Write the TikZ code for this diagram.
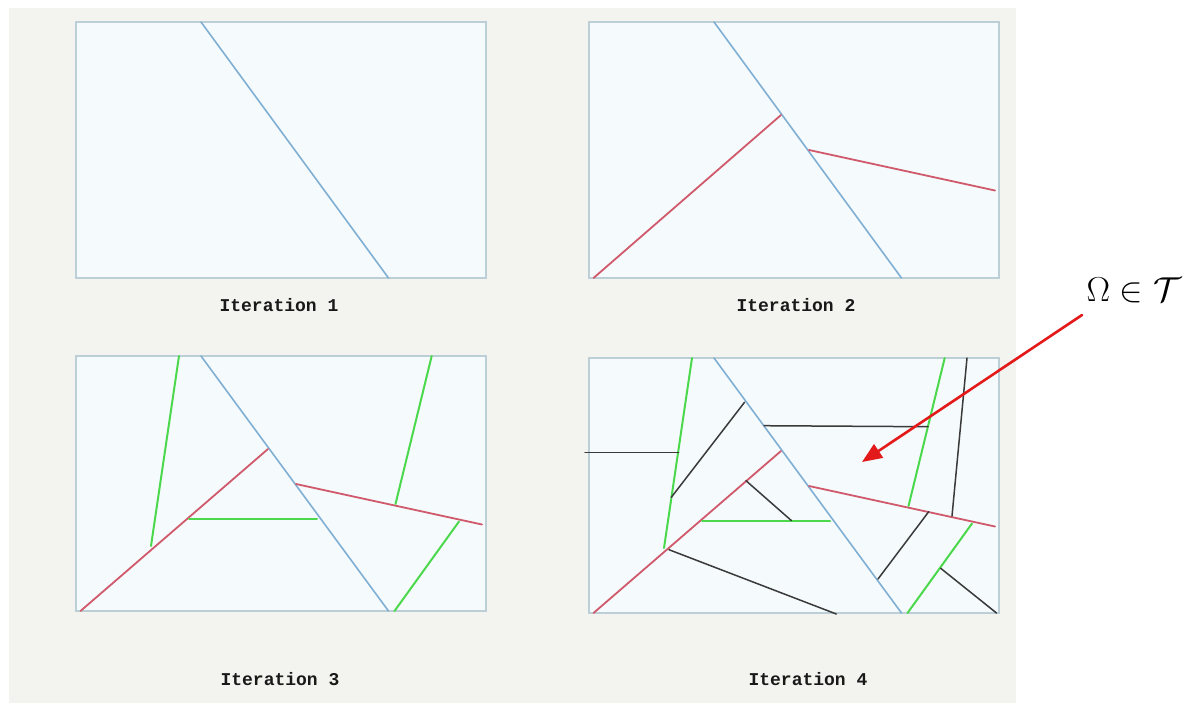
\documentclass[tikz,border=0pt]{standalone}
\usepackage{fontspec}
\usetikzlibrary{arrows.meta}
\newfontfamily\itermono{Liberation Mono}
\definecolor{bgGray}{HTML}{F3F3EF}
\definecolor{panFill}{HTML}{F5FAFC}
\definecolor{panEdge}{HTML}{BCCFD6}
\definecolor{cutBlue}{HTML}{80AFD4}
\definecolor{cutRed}{HTML}{D05A6C}
\definecolor{cutGreen}{HTML}{4CD84C}
\definecolor{cutBlack}{HTML}{3A3A3A}
\definecolor{arrRed}{HTML}{E31A1A}

\begin{document}
\begin{tikzpicture}[x=0.5pt,y=-0.5pt,line cap=round,
      panel/.style={draw=panEdge,fill=panFill,line width=0.6pt},
      blueln/.style={draw=cutBlue,line width=0.8pt},
      redln/.style={draw=cutRed,line width=0.9pt},
      greenln/.style={draw=cutGreen,line width=1pt},
      blackln/.style={draw=cutBlack,line width=0.75pt},
      iter/.style={font=\itermono\bfseries\fontsize{9}{10}\selectfont,text=black!90,inner sep=0pt}]
      \useasboundingbox (0,0) rectangle (1189,703);
      \fill[white] (0,0) rectangle (1189,703);
      \fill[bgGray] (9,8) rectangle (1016,703);
      % iteration 1
      \begin{scope}[shift={(76,22)}]
        \draw[panel] (0,0) rectangle (410,256);
        \draw[blueln] (125,0) -- (312.5,256);
      \end{scope}
      % iteration 2
      \begin{scope}[shift={(589,22)}]
        \draw[panel] (0,0) rectangle (410,256);
        \draw[blueln] (125,0) -- (312.5,256);
        \draw[redln] (4.5,256) -- (192,93);
        \draw[redln] (220,128) -- (406,168.5);
      \end{scope}
      % iteration 3
      \begin{scope}[shift={(76,356)}]
        \draw[panel] (0,0) rectangle (410,255);
        \draw[blueln] (125,0) -- (312.5,255);
        \draw[redln] (4.5,255) -- (192,93);
        \draw[redln] (220,128) -- (406,168.5);
        \draw[greenln] (103,0) -- (75,190);
        \draw[greenln] (113,162.5) -- (241,162.5);
        \draw[greenln] (355.7,0) -- (319.5,148);
        \draw[greenln] (383,165.5) -- (318.5,255);
      \end{scope}
      % iteration 4
      \begin{scope}[shift={(589,358)}]
        \draw[panel] (0,0) rectangle (410,255);
        \draw[blueln] (125,0) -- (312.5,255);
        \draw[redln] (4.5,255) -- (192,93);
        \draw[redln] (220,128) -- (406,168.5);
        \draw[greenln] (103,0) -- (75,190);
        \draw[greenln] (113,162.5) -- (241,162.5);
        \draw[greenln] (355.7,0) -- (319.5,148);
        \draw[greenln] (383,165.5) -- (318.5,255);
        \draw[blackln] (-4,94.3) -- (89.7,94.3);
        \draw[blackln] (82.3,139.3) -- (155.5,44.3);
        \draw[blackln] (175,67.7) -- (339,68.7);
        \draw[blackln] (378,0) -- (363,158);
        \draw[blackln] (157,122.7) -- (202.3,162.5);
        \draw[blackln] (80,191.7) -- (247.3,256);
        \draw[blackln] (339.7,153.7) -- (289,221);
        \draw[blackln] (351.7,210.3) -- (407.5,255);
      \end{scope}
      \node[iter] (it1) at (279,305) {Iteration 1};
      \node[iter] (it2) at (796,305) {Iteration 2};
      \node[iter] (it3) at (280,679) {Iteration 3};
      \node[iter] (it4) at (808,679) {Iteration 4};
      % the cell label and its pointer
      \node[anchor=base,inner sep=0pt,font=\fontsize{16}{18}\selectfont] (omega) at (1134,301)
        {\scalebox{1.02}[1.0]{$\Omega\in\mathcal{T}$}};
      \coordinate (tail) at (1082,315);
      \coordinate (cell) at (862,462);
      \draw[arrRed,line width=1.3pt,-{Triangle[length=10pt,width=8pt]}] (tail) -- (cell);
    \end{tikzpicture}
\end{document}
